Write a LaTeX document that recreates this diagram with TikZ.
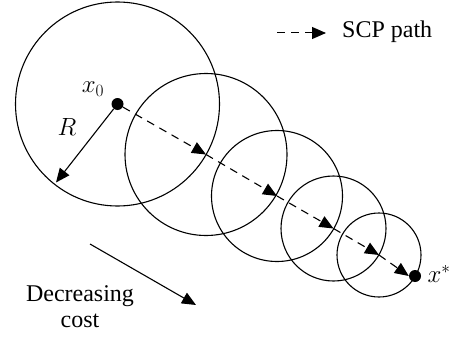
\documentclass[tikz,border=0pt]{standalone}
\usepackage{fontspec}
\setmainfont{Liberation Serif}
\usetikzlibrary{arrows.meta}
\tikzset{
  ring/.style={draw, line width=1.1pt},
  dotnode/.style={circle, fill=black, inner sep=0pt, minimum size=12pt},
  scp/.style={line width=1.1pt, dash pattern=on 8pt off 6pt, -{Triangle[length=14pt,width=12pt]}},
  solidarrow/.style={line width=1.1pt, -{Triangle[length=14pt,width=12pt]}},
  lbl/.style={font=\fontsize{24}{27}\selectfont, inner sep=0pt}
}
\begin{document}
\begin{tikzpicture}[x=1pt,y=-1pt]
\useasboundingbox (0,0) rectangle (452,337);
% centres
\coordinate (c1) at (117.5,104);
\coordinate (c2) at (206,154.5);
\coordinate (c3) at (277,196);
\coordinate (c4) at (333.5,228.5);
\coordinate (c5) at (379,255);
% circles
\draw[ring] (c1) circle[radius=102pt];
\draw[ring] (c2) circle[radius=81pt];
\draw[ring] (c3) circle[radius=65.5pt];
\draw[ring] (c4) circle[radius=52.5pt];
\draw[ring] (c5) circle[radius=42pt];
% start and end points
\node[dotnode] (x0) at (c1) {};
\node[dotnode] (xs) at (415,276) {};
\node[lbl] (x0lbl) at (93,89) {$x_0$};
\node[lbl] (xslbl) at (439,274) {$x^*$};
% SCP path
\draw[scp] (x0) -- (c2);
\draw[scp] (c2) -- (c3);
\draw[scp] (c3) -- (c4);
\draw[scp] (c4) -- (c5);
\draw[scp] (c5) -- (xs.west);
% radius
\coordinate (rend) at (56,182.5);
\draw[solidarrow] (x0) -- (rend);
\node[lbl] (Rlbl) at (67,127) {$R$};
% legend
\coordinate (lg1) at (277,33);
\coordinate (lg2) at (326,33);
\draw[scp, line width=1pt] (lg1) -- (lg2);
\node[lbl, anchor=west] (lgtext) at (342,32) {SCP path};
% decreasing cost
\coordinate (dc1) at (90,244);
\coordinate (dc2) at (196,305);
\draw[solidarrow] (dc1) -- (dc2);
\node[lbl, align=center] (dctext) at (80,307) {Decreasing\\[-1pt]cost};
\end{tikzpicture}
\end{document}
